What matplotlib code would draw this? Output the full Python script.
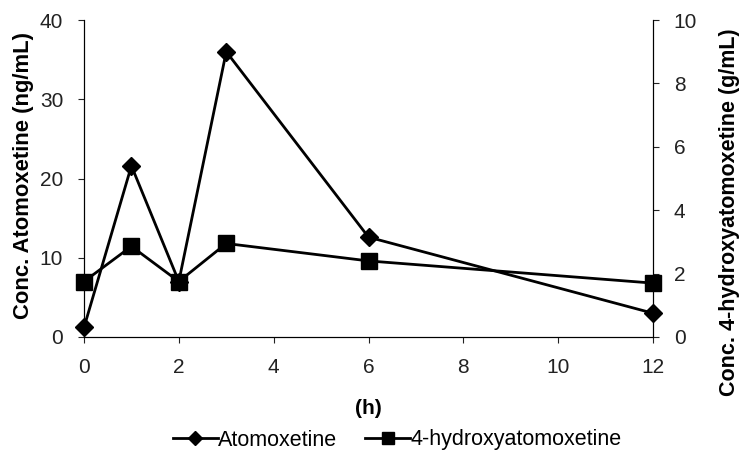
import matplotlib.pyplot as plt
from matplotlib.lines import Line2D

plt.rcParams['font.family'] = ['Liberation Sans', 'DejaVu Sans']

hours = [0, 1, 2, 3, 6, 12]
atomoxetine = [1.2, 21.6, 7.0, 36.0, 12.6, 3.0]
hydroxy = [1.75, 2.86, 1.75, 2.95, 2.4, 1.7]

fig = plt.figure(figsize=(7.39, 4.57), dpi=100)
ax = fig.add_axes([84/739, 1 - 337/457, (653 - 84)/739, (337 - 20)/457])
ax2 = ax.twinx()

ax.plot(hours, atomoxetine, '-', color='black', lw=2.0, marker='D', ms=9,
        clip_on=False, zorder=3)
ax2.plot(hours, hydroxy, '-', color='black', lw=2.0, marker='s', ms=12,
         clip_on=False, zorder=3)

ax.set_xlim(0, 12)
ax.set_ylim(0, 40)
ax2.set_ylim(0, 10)
ax.set_xticks(range(0, 13, 2))
ax.set_yticks(range(0, 41, 10))
ax2.set_yticks(range(0, 11, 2))

for a in (ax, ax2):
    a.spines['top'].set_visible(False)
    a.tick_params(labelsize=15, length=4, width=0.8, colors='#222222')
ax.tick_params(axis='x', pad=11)
ax.tick_params(axis='y', pad=11)
ax2.tick_params(axis='y', pad=11)

ax.set_ylabel('Conc. Atomoxetine (ng/mL)', fontsize=15.8, fontweight='bold', va='center')
ax.yaxis.set_label_coords((24 - 84)/569, 0.51)
ax2.set_ylabel('Conc. 4-hydroxyatomoxetine (g/mL)', fontsize=15.5, fontweight='bold',
               va='center')
ax2.yaxis.set_label_coords((730 - 84)/569, (337 - 212)/317)
ax.set_xlabel('(h)', fontsize=15, fontweight='bold', va='center')
ax.xaxis.set_label_coords(0.5, (337 - 408)/317)

handles = [Line2D([], [], color='black', lw=2, marker='D', ms=7),
           Line2D([], [], color='black', lw=2, marker='s', ms=9)]
fig.legend(handles, ['Atomoxetine', '4-hydroxyatomoxetine'], loc='center',
           bbox_to_anchor=(397/739, 1 - 440/457), ncol=2, frameon=False,
           fontsize=15.5, handlelength=2.1, handletextpad=0.0, columnspacing=1.3)

fig.savefig('out.png', dpi=100)
